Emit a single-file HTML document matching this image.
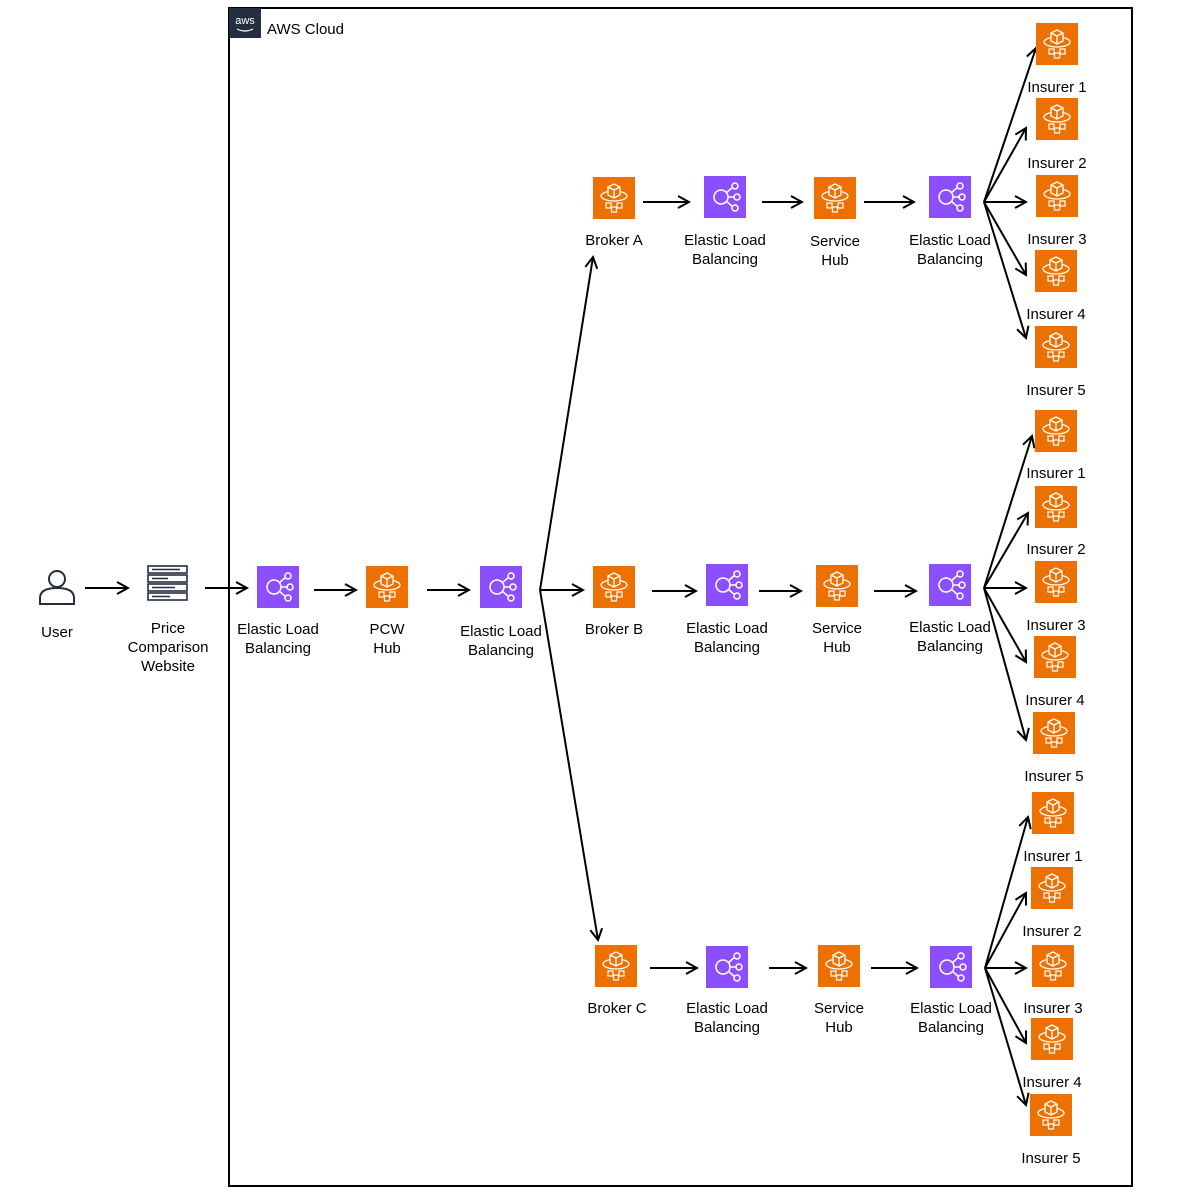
<!DOCTYPE html>
<html><head><meta charset="utf-8"><style>
body{margin:0;background:#fff}
svg text{font-family:"Liberation Sans",sans-serif;font-size:15px;fill:#000;text-anchor:middle}
</style></head><body>
<svg width="1177" height="1193" xmlns="http://www.w3.org/2000/svg">
<defs>
<marker id="a" markerWidth="14" markerHeight="14" refX="12" refY="7" orient="auto" markerUnits="userSpaceOnUse">
<path d="M1,1 L12,7 L1,13" fill="none" stroke="#000" stroke-width="2"/></marker>
<g id="elb"><rect width="42" height="42" fill="#8C4FFF"/>
<circle cx="17" cy="21" r="7" fill="none" stroke="#fff" stroke-width="1.5"/>
<path d="M24,21 H31 M22,17 L29,11 M22,25 L29,31" stroke="#fff" stroke-width="1.5"/>
<circle cx="31" cy="10" r="3" fill="none" stroke="#fff" stroke-width="1.5"/>
<circle cx="33" cy="21" r="3" fill="none" stroke="#fff" stroke-width="1.5"/>
<circle cx="31" cy="32" r="3" fill="none" stroke="#fff" stroke-width="1.5"/></g>
<g id="hub"><rect width="42" height="42" fill="#ED7100"/>
<ellipse cx="21" cy="19" rx="13" ry="5" fill="none" stroke="#fff" stroke-width="1.3"/>
<path d="M15,10 L21,7 L27,10 V18 L21,21 L15,18 Z M15,10 L21,13 L27,10 M21,13 V21" fill="#ED7100" stroke="#fff" stroke-width="1.3"/>
<rect x="13" y="26" width="5" height="5" fill="none" stroke="#fff" stroke-width="1.2"/>
<rect x="24" y="26" width="5" height="5" fill="none" stroke="#fff" stroke-width="1.2"/>
<rect x="18.5" y="30" width="5" height="5" fill="none" stroke="#fff" stroke-width="1.2"/></g>
</defs>
<rect x="229" y="8" width="903" height="1178" fill="none" stroke="#000" stroke-width="2"/>
<rect x="229" y="8" width="32" height="30" fill="#232F3E"/>
<text x="245" y="24" style="fill:#fff;font-size:11px">aws</text>
<path d="M237,29 Q245,33 253,29" stroke="#fff" fill="none" stroke-width="1.2"/>
<text x="267" y="34" style="text-anchor:start;font-size:15px">AWS Cloud</text>

<circle cx="57" cy="579" r="8" fill="none" stroke="#232F3E" stroke-width="2"/>
<path d="M40,604 V598 Q40,588 57,588 Q74,588 74,598 V604 Z" fill="none" stroke="#232F3E" stroke-width="2"/>
<text x="57" y="637">User</text>
<g fill="none" stroke="#232F3E" stroke-width="1.6">
<rect x="148" y="566" width="39" height="7"/><rect x="148" y="575" width="39" height="7"/>
<rect x="148" y="584" width="39" height="7"/><rect x="148" y="593" width="39" height="7"/></g>
<g stroke="#232F3E" stroke-width="1.6"><path d="M152,569.5 H180 M152,578.5 H168 M152,587.5 H175 M152,596.5 H170"/></g>
<text x="168" y="633">Price</text><text x="168" y="652">Comparison</text><text x="168" y="671">Website</text>

<g stroke="#000" stroke-width="2" fill="none" marker-end="url(#a)">
<path d="M85,588 H128"/><path d="M205,588 H247"/><path d="M314,590 H356"/><path d="M427,590 H469"/>
<path d="M540,590 L593,257"/><path d="M540,590 H583"/><path d="M540,590 L598,940"/>
<path d="M643,202 H689"/><path d="M762,202 H802"/><path d="M864,202 H914"/>
<path d="M652,591 H696"/><path d="M759,591 H801"/><path d="M874,591 H916"/>
<path d="M650,968 H697"/><path d="M769,968 H806"/><path d="M871,968 H917"/>
<path d="M984,202 L1036,48"/><path d="M984,202 L1026,128"/><path d="M984,202 H1026"/><path d="M984,202 L1026,275"/><path d="M984,202 L1026,338"/>
<path d="M984,588 L1032,436"/><path d="M984,588 L1028,513"/><path d="M984,588 H1026"/><path d="M984,588 L1026,662"/><path d="M984,588 L1026,740"/>
<path d="M985,968 L1028,817"/><path d="M985,968 L1026,893"/><path d="M985,968 H1026"/><path d="M985,968 L1026,1043"/><path d="M985,968 L1026,1105"/>
</g>

<use href="#elb" x="257" y="566"/><text x="278" y="634">Elastic Load</text><text x="278" y="653">Balancing</text>
<use href="#hub" x="366" y="566"/><text x="387" y="634">PCW</text><text x="387" y="653">Hub</text>
<use href="#elb" x="480" y="566"/><text x="501" y="636">Elastic Load</text><text x="501" y="655">Balancing</text>

<use href="#hub" x="593" y="177"/><text x="614" y="245">Broker A</text>
<use href="#elb" x="704" y="176"/><text x="725" y="245">Elastic Load</text><text x="725" y="264">Balancing</text>
<use href="#hub" x="814" y="177"/><text x="835" y="246">Service</text><text x="835" y="265">Hub</text>
<use href="#elb" x="929" y="176"/><text x="950" y="245">Elastic Load</text><text x="950" y="264">Balancing</text>

<use href="#hub" x="593" y="566"/><text x="614" y="634">Broker B</text>
<use href="#elb" x="706" y="564"/><text x="727" y="633">Elastic Load</text><text x="727" y="652">Balancing</text>
<use href="#hub" x="816" y="565"/><text x="837" y="633">Service</text><text x="837" y="652">Hub</text>
<use href="#elb" x="929" y="564"/><text x="950" y="632">Elastic Load</text><text x="950" y="651">Balancing</text>

<use href="#hub" x="595" y="945"/><text x="617" y="1013">Broker C</text>
<use href="#elb" x="706" y="946"/><text x="727" y="1013">Elastic Load</text><text x="727" y="1032">Balancing</text>
<use href="#hub" x="818" y="945"/><text x="839" y="1013">Service</text><text x="839" y="1032">Hub</text>
<use href="#elb" x="930" y="946"/><text x="951" y="1013">Elastic Load</text><text x="951" y="1032">Balancing</text>

<use href="#hub" x="1036" y="23"/><text x="1057" y="92">Insurer 1</text>
<use href="#hub" x="1036" y="98"/><text x="1057" y="168">Insurer 2</text>
<use href="#hub" x="1036" y="175"/><text x="1057" y="244">Insurer 3</text>
<use href="#hub" x="1035" y="250"/><text x="1056" y="319">Insurer 4</text>
<use href="#hub" x="1035" y="326"/><text x="1056" y="395">Insurer 5</text>

<use href="#hub" x="1035" y="410"/><text x="1056" y="478">Insurer 1</text>
<use href="#hub" x="1035" y="486"/><text x="1056" y="554">Insurer 2</text>
<use href="#hub" x="1035" y="561"/><text x="1056" y="630">Insurer 3</text>
<use href="#hub" x="1034" y="636"/><text x="1055" y="705">Insurer 4</text>
<use href="#hub" x="1033" y="712"/><text x="1054" y="781">Insurer 5</text>

<use href="#hub" x="1032" y="792"/><text x="1053" y="861">Insurer 1</text>
<use href="#hub" x="1031" y="867"/><text x="1052" y="936">Insurer 2</text>
<use href="#hub" x="1032" y="945"/><text x="1053" y="1013">Insurer 3</text>
<use href="#hub" x="1031" y="1018"/><text x="1052" y="1087">Insurer 4</text>
<use href="#hub" x="1030" y="1094"/><text x="1051" y="1163">Insurer 5</text>
</svg>
</body></html>
